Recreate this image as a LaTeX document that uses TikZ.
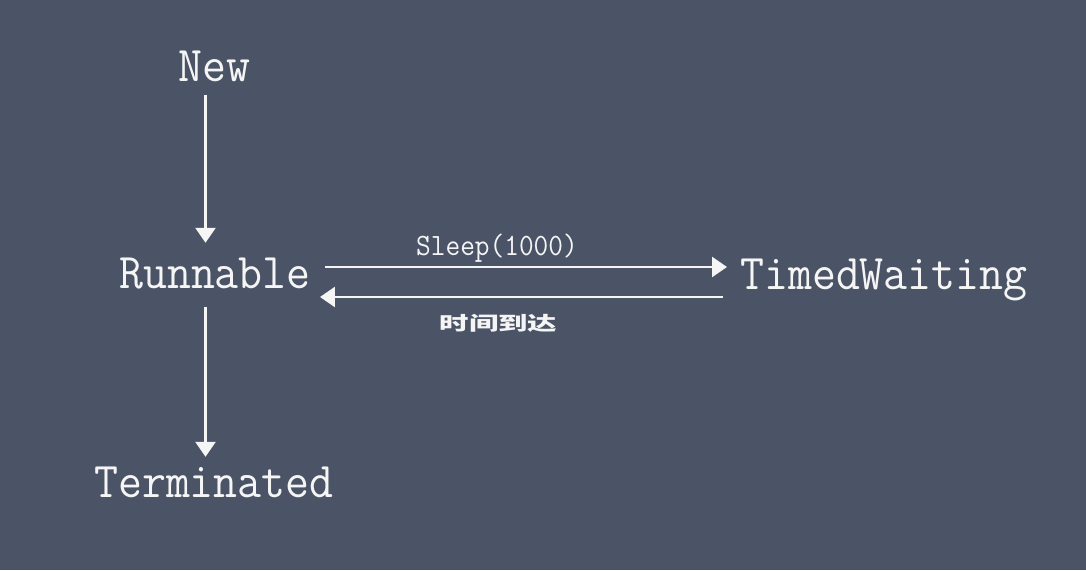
\documentclass[tikz,border=0pt]{standalone}
\usepackage{fontspec}
\newfontfamily\cjk{Noto Sans CJK SC}
\usetikzlibrary{arrows.meta}
\definecolor{board}{RGB}{74,84,102}
\definecolor{chalk}{RGB}{245,245,245}
\tikzset{
  state/.style={inner sep=0pt, text=chalk, anchor=base west, text height=32pt, text depth=0pt,
    font=\ttfamily\fontsize{50}{50}\selectfont},
  lbl/.style={inner sep=0pt, text=chalk},
  arr/.style={draw=chalk, line width=2.5pt, -{Triangle[width=20pt,length=15pt]}},
}
\begin{document}
\begin{tikzpicture}[x=1pt,y=-1pt]
\fill[board] (0,0) rectangle (1086,570);
\useasboundingbox (0,0) rectangle (1086,570);

\node[state] (new) at (178,81) {\scalebox{0.93}[1]{New}};
\node[state] (run) at (119,288) {\scalebox{0.93}[1]{Runnable}};
\node[state] (term) at (94,497) {\scalebox{0.93}[1]{Terminated}};
\node[state] (tw) at (740,289) {\scalebox{0.93}[1]{TimedWaiting}};

\node[lbl, anchor=base west, font=\ttfamily\fontsize{31}{31}\selectfont] (sleep) at (416,255) {\scalebox{0.92}[1]{Sleep(1000)}};
\node[lbl, font=\cjk\bfseries\fontsize{19}{19}\selectfont] (arrive) at (498.5,323.5) {\scalebox{1.55}[1]{时间到达}};

\draw[arr, shorten <=14pt, shorten >=13pt] (new.south -| 205.5,0) -- (run.north -| 205.5,0);
\draw[arr, shorten <=19pt, shorten >=8pt] (run.south -| 205.5,0) -- (term.north -| 205.5,0);
\draw[arr, shorten <=14pt, shorten >=13pt] (run.east |- 0,267) -- (tw.west |- 0,267);
\draw[arr, shorten <=17pt, shorten >=9pt] (tw.west |- 0,297) -- (run.east |- 0,297);
\end{tikzpicture}
\end{document}
